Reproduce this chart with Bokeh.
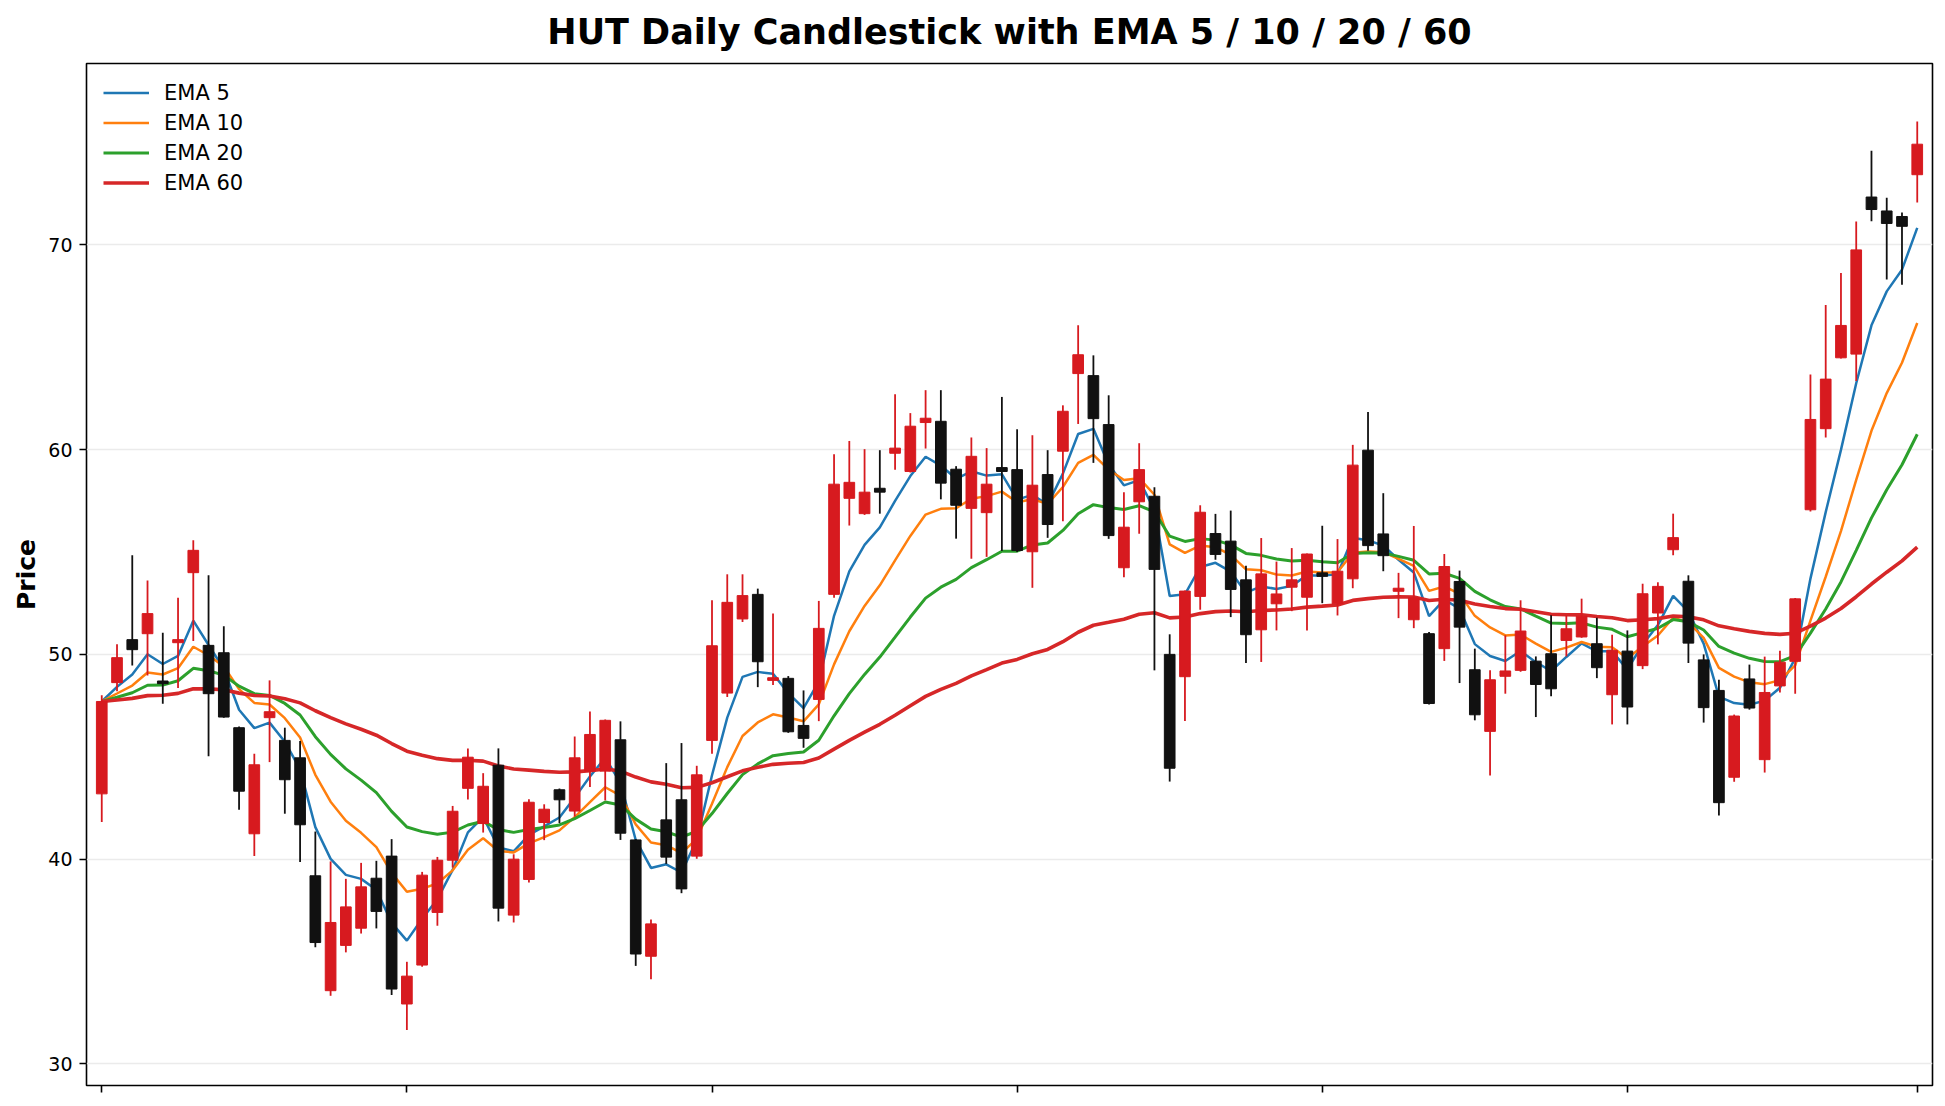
import pandas as pd
from bokeh.plotting import figure
from bokeh.models import Range1d, FixedTicker, Title, Legend, LegendItem, ColumnDataSource
from bokeh.embed import file_html
from bokeh.resources import INLINE

title_text = "HUT Daily Candlestick with EMA 5 / 10 / 20 / 60"
ema_spans = [5, 10, 20, 60]
ema_labels = ["EMA 5", "EMA 10", "EMA 20", "EMA 60"]
ema_colors = ["#1f77b4", "#ff7f0e", "#2ca02c", "#d62728"]
y_ticks = [30, 40, 50, 60, 70]
x_ticks = [0, 20, 40, 60, 80, 100, 119]

opens = [43.19, 48.62, 50.72, 51.01, 48.70, 50.57, 53.99, 50.44, 50.08, 46.42,
         41.24, 46.91, 45.80, 44.95, 39.19, 33.58, 35.79, 36.63, 39.07, 40.15,
         32.93, 34.83, 37.40, 39.95, 43.46, 41.74, 44.59, 37.27, 39.01, 41.79,
         43.39, 42.35, 44.30, 44.30, 45.83, 40.94, 35.26, 41.92, 42.90, 40.15,
         45.80, 48.11, 51.73, 52.93, 48.73, 48.83, 46.53, 47.80, 52.93, 57.62,
         56.87, 58.11, 59.82, 58.93, 61.32, 61.38, 59.04, 57.13, 56.92, 59.12,
         59.02, 55.01, 58.78, 59.92, 63.71, 63.61, 61.22, 54.23, 57.45, 57.72,
         50.00, 48.91, 52.83, 55.90, 55.53, 53.64, 51.20, 52.47, 53.28, 52.79,
         53.98, 52.47, 53.69, 59.97, 55.88, 53.08, 51.69, 51.01, 50.28, 53.56,
         49.25, 46.24, 48.93, 49.22, 49.67, 50.03, 50.68, 50.85, 50.52, 48.03,
         50.16, 49.45, 52.02, 55.11, 53.57, 49.73, 48.24, 44.00, 48.80, 44.86,
         48.46, 49.66, 57.06, 61.02, 64.48, 64.66, 72.33, 71.65, 71.38, 73.42]
highs = [48.00, 50.49, 54.84, 53.61, 51.06, 52.77, 55.57, 53.86, 51.37, 46.48,
         45.15, 48.73, 46.42, 45.77, 41.35, 39.89, 39.04, 39.82, 39.92, 40.98,
         34.99, 39.38, 40.11, 42.60, 45.41, 44.20, 45.41, 40.24, 42.93, 42.68,
         43.45, 45.99, 47.21, 46.82, 46.73, 40.98, 37.05, 44.69, 45.67, 44.56,
         52.64, 53.91, 53.91, 53.21, 51.99, 48.94, 48.24, 52.61, 59.77, 60.42,
         60.02, 59.97, 62.70, 61.78, 62.90, 62.90, 59.19, 60.59, 60.07, 62.57,
         60.99, 60.70, 59.97, 62.16, 66.07, 64.60, 62.65, 57.92, 60.31, 58.16,
         50.98, 53.12, 57.28, 56.86, 57.02, 54.33, 55.68, 54.53, 55.19, 54.92,
         56.28, 55.63, 60.23, 61.83, 57.87, 53.98, 56.27, 51.09, 54.90, 54.09,
         50.28, 49.22, 50.93, 52.64, 49.90, 51.91, 51.91, 52.72, 51.79, 50.96,
         51.17, 53.45, 53.52, 56.87, 53.86, 50.00, 48.76, 47.06, 49.50, 49.89,
         50.18, 52.75, 63.67, 67.06, 68.62, 71.13, 74.59, 72.29, 71.58, 76.02]
lows = [41.81, 48.20, 49.46, 48.97, 47.59, 48.36, 50.65, 45.03, 46.90, 42.41,
        40.15, 44.74, 42.22, 39.86, 35.70, 33.33, 35.45, 36.37, 36.62, 33.37,
        31.66, 34.75, 36.75, 39.59, 42.91, 41.30, 36.96, 36.91, 38.86, 40.93,
        41.76, 42.08, 43.52, 42.87, 40.94, 34.79, 34.14, 39.77, 38.34, 40.02,
        45.15, 47.92, 51.58, 48.40, 48.50, 46.17, 45.44, 46.74, 52.77, 56.29,
        56.81, 56.87, 59.02, 58.88, 60.05, 57.57, 55.65, 54.67, 54.76, 55.05,
        55.00, 53.25, 55.69, 56.50, 61.25, 59.35, 55.64, 53.77, 55.89, 49.22,
        43.79, 46.75, 52.18, 54.62, 51.82, 49.58, 49.63, 51.17, 52.11, 51.17,
        52.50, 51.90, 53.23, 55.06, 54.06, 51.77, 51.28, 47.55, 49.68, 48.60,
        46.78, 44.09, 48.08, 49.15, 46.94, 47.95, 49.90, 50.81, 48.84, 46.58,
        46.58, 49.28, 50.49, 54.84, 49.58, 46.67, 42.13, 43.78, 47.30, 44.23,
        48.14, 48.08, 56.97, 60.59, 64.45, 63.35, 71.15, 68.30, 68.05, 72.06]
closes = [47.70, 49.84, 50.23, 51.99, 48.57, 50.72, 55.08, 48.08, 46.94, 43.32,
          44.61, 47.20, 43.88, 41.68, 35.93, 36.91, 37.67, 38.65, 37.45, 33.66,
          34.29, 39.22, 39.95, 42.34, 44.98, 43.56, 37.61, 40.00, 42.78, 42.44,
          42.90, 44.95, 46.09, 46.78, 41.27, 35.37, 36.84, 40.10, 38.55, 44.12,
          50.42, 52.54, 52.87, 49.64, 48.86, 46.22, 45.90, 51.27, 58.31, 58.40,
          57.92, 57.92, 60.07, 61.14, 61.53, 58.36, 57.28, 59.67, 58.31, 58.93,
          55.07, 58.26, 56.34, 61.87, 64.63, 61.51, 55.80, 56.21, 59.02, 54.15,
          44.44, 53.09, 56.94, 54.88, 53.17, 50.96, 53.93, 52.95, 53.64, 54.90,
          53.81, 54.06, 59.24, 55.31, 54.82, 53.23, 52.76, 47.60, 54.29, 51.33,
          47.05, 48.76, 49.19, 51.14, 48.53, 48.32, 51.25, 51.86, 49.35, 50.20,
          47.43, 52.96, 53.32, 55.70, 50.55, 47.40, 42.76, 46.99, 47.38, 48.14,
          49.62, 52.71, 61.47, 63.44, 66.06, 69.75, 71.72, 71.04, 70.90, 74.91]

UP_COLOR = "#d71a1f"
DOWN_COLOR = "#111111"
FONT = "DejaVu Sans"

df = pd.DataFrame({"open": opens, "high": highs, "low": lows, "close": closes})
df["x"] = range(len(df))
df["top"] = df[["open", "close"]].max(axis=1)
df["bottom"] = df[["open", "close"]].min(axis=1)
df["color"] = [UP_COLOR if c >= o else DOWN_COLOR for o, c in zip(opens, closes)]
src = ColumnDataSource(df)

p = figure(width=1936, height=1098, output_backend="svg", toolbar_location=None,
           x_range=Range1d(-1, 120), y_range=Range1d(28.95, 78.85),
           min_border_left=86, min_border_right=4, min_border_top=63, min_border_bottom=13)

p.title = Title(text=title_text, align="center", text_font=FONT, text_font_size="35px",
                text_font_style="bold", text_color="black", standoff=20,
                vertical_align="top")

# EMA lines (drawn beneath candles)
legend_items = []
widths = [2.5, 2.5, 3.0, 3.6]
for span, lab, col, w in zip(ema_spans, ema_labels, ema_colors, widths):
    ema = df["close"].ewm(span=span, adjust=False).mean()
    r = p.line(df["x"], ema, line_color=col, line_width=w)
    legend_items.append(LegendItem(label=lab, renderers=[r]))

# candles
p.segment(x0="x", y0="high", x1="x", y1="low", source=src, line_color="color", line_width=1.8)
p.vbar(x="x", width=0.7, top="top", bottom="bottom", source=src,
       fill_color="color", line_color="color", line_width=1)

legend = Legend(items=legend_items, location="top_left", margin=10, padding=7, spacing=5,
                glyph_width=46, glyph_height=25, label_height=25, label_standoff=15,
                label_text_font=FONT, label_text_font_size="21px", label_text_color="black",
                border_line_alpha=0, background_fill_alpha=0)
p.add_layout(legend)

# axes
p.yaxis.ticker = FixedTicker(ticks=y_ticks)
p.xaxis.ticker = FixedTicker(ticks=x_ticks)
p.xaxis.major_label_overrides = {t: "" for t in x_ticks}
p.xaxis.major_label_text_font_size = "1px"
p.xaxis.major_label_standoff = 0
for ax in (p.xaxis, p.yaxis):
    ax.axis_line_color = None
    ax.major_tick_in = 0
    ax.major_tick_out = 7
    ax.major_tick_line_color = "black"
    ax.major_tick_line_width = 1.6
    ax.minor_tick_line_color = None
p.yaxis.major_label_text_font = FONT
p.yaxis.major_label_text_font_size = "19px"
p.yaxis.major_label_text_color = "black"
p.yaxis.major_label_standoff = 7
p.yaxis.axis_label = "Price"
p.yaxis.axis_label_text_font = FONT
p.yaxis.axis_label_text_font_size = "25px"
p.yaxis.axis_label_text_font_style = "bold"
p.yaxis.axis_label_text_color = "black"
p.yaxis.axis_label_standoff = 4

p.xgrid.grid_line_color = None
p.ygrid.grid_line_color = "#ebebeb"
p.ygrid.grid_line_width = 1.6

p.outline_line_color = "black"
p.outline_line_width = 1.6
p.background_fill_color = "white"
p.border_fill_color = "white"

open("out.html", "w").write(file_html(p, INLINE))
